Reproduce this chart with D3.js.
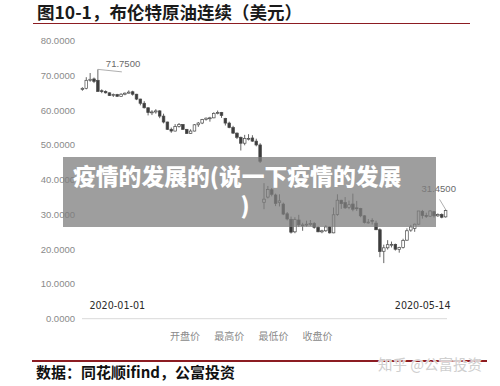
<!DOCTYPE html>
<html>
<head>
<meta charset="utf-8">
<script src="https://cdn.jsdelivr.net/npm/d3@7/dist/d3.min.js"></script>
<style>
  html, body { margin: 0; padding: 0; background: #fff; }
  svg { display: block; }
</style>
</head>
<body>
<svg id="chart" width="500" height="386"></svg>
<script>
// Brent crude continuous contract, daily OHLC, 2020-01-02 .. 2020-05-14
const dates = [
  "2020-01-02","2020-01-03","2020-01-06","2020-01-07","2020-01-08","2020-01-09","2020-01-10",
  "2020-01-13","2020-01-14","2020-01-15","2020-01-16","2020-01-17","2020-01-20","2020-01-21",
  "2020-01-22","2020-01-23","2020-01-24","2020-01-27","2020-01-28","2020-01-29","2020-01-30","2020-01-31",
  "2020-02-03","2020-02-04","2020-02-05","2020-02-06","2020-02-07","2020-02-10","2020-02-11",
  "2020-02-12","2020-02-13","2020-02-14","2020-02-17","2020-02-18","2020-02-19","2020-02-20",
  "2020-02-21","2020-02-24","2020-02-25","2020-02-26","2020-02-27","2020-02-28",
  "2020-03-02","2020-03-03","2020-03-04","2020-03-05","2020-03-06","2020-03-09","2020-03-10",
  "2020-03-11","2020-03-12","2020-03-13","2020-03-16","2020-03-17","2020-03-18","2020-03-19",
  "2020-03-20","2020-03-23","2020-03-24","2020-03-25","2020-03-26","2020-03-27","2020-03-30","2020-03-31",
  "2020-04-01","2020-04-02","2020-04-03","2020-04-06","2020-04-07","2020-04-08","2020-04-09",
  "2020-04-13","2020-04-14","2020-04-15","2020-04-16","2020-04-17","2020-04-20","2020-04-21",
  "2020-04-22","2020-04-23","2020-04-24","2020-04-27","2020-04-28","2020-04-29","2020-04-30",
  "2020-05-01","2020-05-04","2020-05-05","2020-05-06","2020-05-07","2020-05-08","2020-05-11",
  "2020-05-12","2020-05-13","2020-05-14"
];
const open = [
  66.0,66.3,68.6,69.0,68.6,65.6,65.4,65.0,64.3,64.5,64.0,64.6,64.9,65.3,64.6,63.2,62.0,60.7,59.3,59.5,59.8,58.3,
  56.6,54.5,54.0,55.3,55.9,54.5,53.3,54.0,55.8,56.3,57.3,57.6,57.8,59.1,59.3,57.6,56.3,55.0,53.4,52.2,
  50.5,51.8,52.0,51.1,50.0,33.5,35.0,37.1,35.6,33.4,33.0,30.2,28.6,25.0,28.4,26.8,27.0,27.3,27.4,26.3,25.0,25.3,
  26.4,24.7,30.0,34.1,33.4,32.0,33.0,31.9,31.7,29.6,27.7,28.3,27.5,25.6,19.4,20.4,21.3,21.4,19.9,20.5,22.6,
  25.5,26.0,27.2,30.9,29.7,29.5,30.8,29.6,30.0,29.3
];
const high = [
  66.6,69.5,70.7,69.4,71.75,66.0,65.7,65.1,64.8,64.7,64.9,65.1,65.7,65.6,64.7,63.3,62.6,60.8,60.0,60.3,60.0,59.0,
  56.7,55.0,56.0,56.3,56.0,54.6,54.5,56.0,56.6,57.5,57.9,58.1,59.4,59.9,59.5,57.8,56.7,55.5,53.6,52.4,
  52.9,53.1,52.8,51.8,50.5,39.0,38.2,37.6,36.0,35.8,33.4,30.7,29.4,29.2,29.9,27.6,28.2,28.4,27.8,26.6,25.6,26.9,
  26.6,32.0,35.8,34.2,35.0,34.0,36.0,33.9,31.9,29.8,28.7,28.9,28.2,26.0,21.3,22.6,22.2,21.6,20.7,23.0,26.0,
  27.0,27.4,31.0,31.3,30.5,31.2,31.0,30.3,30.3,31.45
];
const low = [
  65.6,66.0,68.2,67.8,65.3,64.9,64.8,64.1,63.8,63.9,63.9,64.3,64.8,64.2,62.9,61.4,60.5,58.5,58.6,59.0,57.7,56.2,
  54.3,53.5,53.9,55.0,54.3,53.2,53.2,53.9,55.2,56.0,57.0,56.7,57.7,58.8,57.8,55.6,54.8,53.2,51.7,48.4,
  49.9,51.3,50.9,49.6,44.8,31.5,34.6,35.2,32.4,32.3,29.8,28.3,24.5,24.6,26.4,25.3,26.5,26.7,25.9,24.9,24.6,25.0,
  24.5,24.6,29.6,31.6,31.6,31.5,30.9,31.0,29.2,27.4,27.4,27.1,25.5,17.7,16.0,19.9,20.5,19.6,19.0,20.2,22.4,
  25.0,25.0,27.1,28.8,29.0,29.3,29.1,29.3,28.9,29.1
];
const close = [
  66.3,68.6,68.9,68.3,65.4,65.4,65.0,64.2,64.5,64.0,64.6,64.9,65.2,64.6,63.2,62.0,60.7,59.3,59.5,59.8,58.3,56.6,
  54.5,54.0,55.3,55.9,54.5,53.3,54.0,55.8,56.3,57.3,57.7,57.8,59.1,59.3,58.5,56.3,55.0,53.4,52.2,50.5,
  51.9,51.9,51.1,50.0,45.3,34.4,37.2,35.8,33.2,33.9,30.1,28.7,24.9,28.5,27.0,27.0,27.2,27.4,26.3,25.0,25.3,26.4,
  24.7,29.9,34.1,33.1,31.9,32.8,31.5,31.7,29.6,27.7,27.8,28.1,25.6,19.3,20.4,21.3,21.4,20.0,20.5,22.5,25.3,
  26.4,27.2,31.0,29.7,29.5,31.0,29.6,30.0,29.2,31.1
];

const yTicks = [0, 10, 20, 30, 40, 50, 60, 70, 80];
const xLabels = ["2020-01-01", "2020-05-14"];
const seriesNames = ["开盘价", "最高价", "最低价", "收盘价"];
const title = "图10-1，布伦特原油连续（美元）";
const source = "数据：同花顺ifind，公富投资";
const watermark = "知乎 @公富投资";
const bannerLines = ["疫情的发展的(说一下疫情的发展", ")"];

const rows = dates.map((d, i) => ({ d, o: open[i], h: high[i], l: low[i], c: close[i] }));

const svg = d3.select("#chart");

// scales
const x = d3.scaleBand().domain(dates).range([81.1, 446.9]).paddingInner(0.32).paddingOuter(0);
const y = d3.scaleLinear().domain([0, 80]).range([318.7, 40.7]);
const cx = d => x(d) + x.bandwidth() / 2;

// title + rule
svg.append("text")
  .attr("x", 37).attr("y", 19)
  .attr("font-family", "'Noto Sans CJK SC', sans-serif")
  .attr("font-weight", 700).attr("font-size", 17.5)
  .attr("fill", "#1a1a1a")
  .text(title);
svg.append("line")
  .attr("x1", 33).attr("x2", 470).attr("y1", 23.5).attr("y2", 23.5)
  .attr("stroke", "#8c1c22").attr("stroke-width", 1.2);

// y axis labels
const yAxis = d3.axisLeft(y).tickValues(yTicks).tickSize(0).tickPadding(0)
  .tickFormat(d3.format(".4f"));
const gy = svg.append("g").attr("transform", "translate(75,0)").call(yAxis);
gy.select(".domain").remove();
gy.selectAll("text")
  .attr("font-family", "'Liberation Sans', Arial, sans-serif")
  .attr("font-size", 9.5).attr("fill", "#8a8a8a");

// baseline at zero
svg.append("line")
  .attr("x1", 82).attr("x2", 447).attr("y1", y(0)).attr("y2", y(0))
  .attr("stroke", "#d9d9d9").attr("stroke-width", 1);

// high-low lines
const g = svg.append("g");
g.selectAll("line.wick").data(rows).join("line")
  .attr("class", "wick")
  .attr("x1", r => cx(r.d)).attr("x2", r => cx(r.d))
  .attr("y1", r => y(r.h)).attr("y2", r => y(r.l))
  .attr("stroke", "#555").attr("stroke-width", 0.9);

// up/down bars
g.selectAll("rect.body").data(rows).join("rect")
  .attr("class", "body")
  .attr("x", r => x(r.d))
  .attr("width", x.bandwidth())
  .attr("y", r => y(Math.max(r.o, r.c)))
  .attr("height", r => Math.max(0.9, Math.abs(y(r.o) - y(r.c))))
  .attr("fill", r => r.c >= r.o ? "#ffffff" : "#3c3c3c")
  .attr("stroke", "#4a4a4a").attr("stroke-width", 0.7);

// data callouts
function callout(i, dx1, dy1, tx, ty) {
  const r = rows[i];
  const px = cx(r.d), py = y(r.h);
  svg.append("line")
    .attr("x1", px).attr("y1", py).attr("x2", px + dx1).attr("y2", py + dy1)
    .attr("stroke", "#9a9a9a").attr("stroke-width", 0.8);
  svg.append("text")
    .attr("x", px + tx).attr("y", py + ty)
    .attr("font-family", "'Liberation Sans', Arial, sans-serif")
    .attr("font-size", 9.5).attr("fill", "#6a6a6a")
    .text(d3.format(".4f")(r.h));
}
const iMax = d3.maxIndex(high);
callout(iMax, 24, 2.5, 8, -2);
callout(rows.length - 1, -6, -10, -24, -17);

// date labels
svg.append("text")
  .attr("x", cx(dates[0]) + 7).attr("y", 308.5)
  .attr("font-family", "'DejaVu Sans', sans-serif").attr("font-size", 9.6)
  .attr("fill", "#2a2a2a").text(xLabels[0]);
svg.append("text")
  .attr("x", cx(dates[dates.length - 1]) + 5).attr("y", 308.5)
  .attr("text-anchor", "end")
  .attr("font-family", "'DejaVu Sans', sans-serif").attr("font-size", 9.6)
  .attr("fill", "#2a2a2a").text(xLabels[1]);

// legend
svg.append("g").selectAll("text").data(seriesNames).join("text")
  .attr("x", (d, i) => 170 + i * 44.2).attr("y", 340)
  .attr("font-family", "'Noto Sans CJK SC', sans-serif").attr("font-size", 10)
  .attr("fill", "#8a8a8a").text(d => d);

// footer rule, source, watermark
svg.append("line")
  .attr("x1", 32).attr("x2", 487).attr("y1", 361).attr("y2", 361)
  .attr("stroke", "#8c1c22").attr("stroke-width", 2);
svg.append("text")
  .attr("x", 36).attr("y", 377.5)
  .attr("font-family", "'Noto Sans CJK SC', sans-serif")
  .attr("font-weight", 700).attr("font-size", 15)
  .attr("fill", "#111").text(source);
svg.append("text")
  .attr("x", 378).attr("y", 370)
  .attr("font-family", "'Noto Sans CJK SC', sans-serif").attr("font-size", 14.5)
  .attr("fill", "#cfcfcf").attr("stroke", "rgba(255,255,255,0.8)").attr("stroke-width", 1.5)
  .attr("paint-order", "stroke").text(watermark);

// banner
svg.append("rect")
  .attr("x", 63).attr("y", 157).attr("width", 373).attr("height", 70)
  .attr("fill", "#7e7e7e").attr("opacity", 0.75);
svg.append("g").selectAll("text").data(bannerLines).join("text")
  .attr("x", (d, i) => i === 0 ? 73 : 245)
  .attr("y", (d, i) => 185 + i * 29)
  .attr("text-anchor", (d, i) => i === 0 ? "start" : "middle")
  .attr("font-family", "'Noto Sans CJK SC', sans-serif")
  .attr("font-weight", 900).attr("font-size", 22.8)
  .attr("fill", "#ffffff").text(d => d);
</script>
</body>
</html>
